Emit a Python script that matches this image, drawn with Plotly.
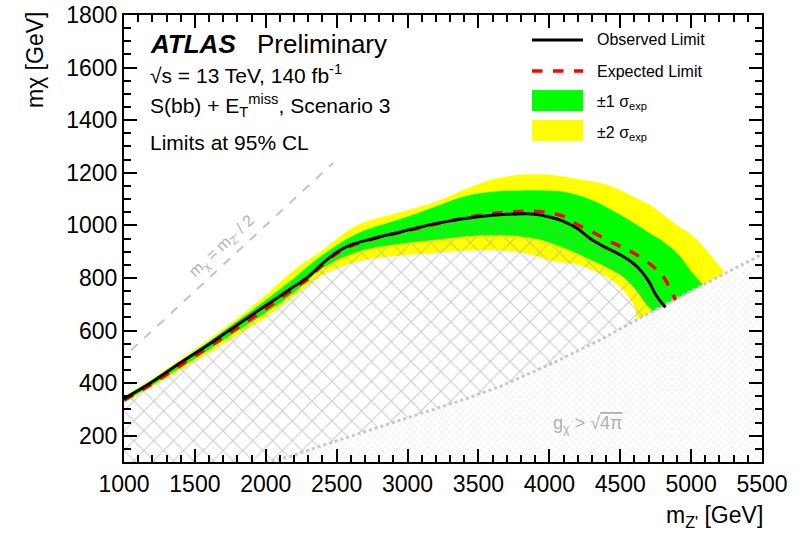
import plotly.graph_objects as go

# ---------------- data ----------------
obs_x = [1000, 1100, 1200, 1400, 1600, 1800, 2000, 2200, 2300, 2400, 2500, 2600, 2700, 2800, 2950,
         3100, 3300, 3500, 3700, 3850, 3950, 4000, 4100, 4200, 4300, 4400, 4500, 4600, 4650, 4700,
         4750, 4800, 4820]
obs_y = [340, 372, 405, 478, 548, 622, 695, 768, 805, 855, 898, 926, 942, 956, 975,
         995, 1017, 1033, 1042, 1044, 1038, 1032, 1015, 987, 945, 915, 888, 852, 825, 788,
         737, 700, 689]

exp_x = [1000, 1200, 1400, 1600, 1800, 2000, 2200, 2300, 2400, 2500, 2600, 2700, 2800, 3000, 3200,
         3400, 3600, 3800, 3900, 4000, 4100, 4200, 4300, 4400, 4500, 4600, 4700, 4750, 4800, 4850,
         4890]
exp_y = [335, 398, 468, 538, 610, 683, 760, 797, 850, 893, 922, 940, 955, 980, 1005,
         1028, 1045, 1053, 1054, 1048, 1034, 1002, 976, 946, 920, 893, 857, 835, 808, 761,
         716]

g_up_x = [1000, 1200, 1400, 1600, 1800, 2000, 2200, 2400, 2650, 2950, 3200, 3400, 3600, 3800, 4000,
          4100, 4200, 4300, 4400, 4500, 4600, 4700, 4800, 4900, 5000, 5080]
g_up_y = [348, 412, 484, 558, 636, 716, 800, 887, 970, 1024, 1072, 1110, 1128, 1133, 1132,
          1128, 1115, 1096, 1070, 1040, 1008, 973, 940, 895, 825, 770]
g_lo_x = [1000, 1200, 1400, 1600, 1800, 2000, 2200, 2400, 2650, 2950, 3200, 3400, 3600, 3800, 3900,
          4000, 4100, 4200, 4300, 4400, 4500, 4550, 4600, 4650, 4700, 4760]
g_lo_y = [330, 392, 460, 527, 598, 668, 745, 837, 900, 930, 945, 958, 962, 958, 950,
          935, 915, 892, 866, 842, 812, 790, 762, 725, 690, 668]

y_up_x = [1000, 1200, 1400, 1600, 1800, 2000, 2200, 2400, 2650, 2950, 3200, 3400, 3600, 3800, 4000,
          4200, 4400, 4600, 4700, 4800, 4900, 5000, 5100, 5200, 5230]
y_up_y = [352, 418, 492, 568, 648, 735, 830, 906, 1002, 1050, 1090, 1135, 1175, 1192, 1192,
          1176, 1155, 1108, 1080, 1042, 1000, 965, 910, 845, 820]
y_lo_x = [1000, 1200, 1400, 1600, 1800, 2000, 2200, 2400, 2650, 2950, 3200, 3400, 3600, 3800, 3900,
          4000, 4200, 4300, 4400, 4500, 4570, 4610, 4620]
y_lo_y = [326, 386, 450, 515, 582, 650, 730, 811, 862, 885, 895, 903, 905, 897, 885,
          866, 850, 830, 805, 765, 720, 680, 645]

# g_chi > sqrt(4 pi) boundary
bnd_x = [2000, 2170, 2400, 2650, 2900, 3150, 3400, 3650, 4000, 4350, 4700, 5060, 5500]
bnd_y = [100, 121, 163, 207, 252, 295, 338, 387, 470, 562, 665, 767, 890]

# m_chi = m_Z'/2 line
half_x = [1050, 2475]
half_y = [525, 1237.5]

x_range = [1000, 5500]
y_range = [100, 1800]
x_ticks = [1000, 1500, 2000, 2500, 3000, 3500, 4000, 4500, 5000, 5500]
y_ticks = [200, 400, 600, 800, 1000, 1200, 1400, 1600, 1800]

# ---------------- helpers ----------------
SL, SR, ST, SB = 124, 762, 15, 462   # plot frame in screen pixels
W, H = 810, 537


def px(xs):
    return (xs - SL) / (SR - SL)


def py(ys):
    return (SB - ys) / (SB - ST)


def band(ux, uy, lx, ly):
    x0, x1 = lx[-1], ux[-1]
    mid = [(a, b) for a, b in zip(bnd_x, bnd_y) if x0 < a < x1]
    xs = list(ux) + [m[0] for m in reversed(mid)] + list(lx[::-1])
    ys = list(uy) + [m[1] for m in reversed(mid)] + list(ly[::-1])
    return xs, ys


FONT = "Liberation Sans, Arial, Helvetica, sans-serif"

fig = go.Figure()

yx, yy = band(y_up_x, y_up_y, y_lo_x, y_lo_y)
fig.add_trace(go.Scatter(x=yx, y=yy, fill="toself", fillcolor="#ffff00", mode="none",
                         line_shape="spline", hoverinfo="skip", showlegend=False))
gx, gy = band(g_up_x, g_up_y, g_lo_x, g_lo_y)
fig.add_trace(go.Scatter(x=gx, y=gy, fill="toself", fillcolor="#00ff00", mode="none",
                         line_shape="spline", hoverinfo="skip", showlegend=False))

# coarse hatch: excluded region below observed limit
cb = [(a, b) for a, b in zip(bnd_x, bnd_y) if a < obs_x[-1]]
cx = list(obs_x) + [c[0] for c in reversed(cb)] + [x_range[0]]
cy = list(obs_y) + [c[1] for c in reversed(cb)] + [y_range[0]]
fig.add_trace(go.Scatter(x=cx, y=cy, fill="toself", fillcolor="rgba(0,0,0,0)", mode="none",
                         fillpattern=dict(shape="x", size=14, solidity=0.15, fgcolor="#999999",
                                          bgcolor="rgba(0,0,0,0)"),
                         hoverinfo="skip", showlegend=False))

# fine hatch: g_chi > sqrt(4pi)
fx = list(bnd_x) + [x_range[1], bnd_x[0]]
fy = list(bnd_y) + [y_range[0], y_range[0]]
fig.add_trace(go.Scatter(x=fx, y=fy, fill="toself", fillcolor="white", mode="none",
                         fillpattern=dict(shape="x", size=5, solidity=0.22, fgcolor="#d0d0d0",
                                          bgcolor="white"),
                         hoverinfo="skip", showlegend=False))

fig.add_trace(go.Scatter(x=bnd_x, y=bnd_y, mode="lines",
                         line=dict(color="#c8c8c8", width=3, dash="dot"),
                         hoverinfo="skip", showlegend=False))
fig.add_trace(go.Scatter(x=half_x, y=half_y, mode="lines",
                         line=dict(color="#c4c4c4", width=2, dash="dash"),
                         hoverinfo="skip", showlegend=False))
fig.add_trace(go.Scatter(x=exp_x, y=exp_y, mode="lines", line_shape="spline",
                         line=dict(color="#ff0000", width=3.5, dash="dash"),
                         name="Expected Limit", showlegend=False))
fig.add_trace(go.Scatter(x=obs_x, y=obs_y, mode="lines", line_shape="spline",
                         line=dict(color="#000000", width=3),
                         name="Observed Limit", showlegend=False))

# ---------------- legend (drawn manually) ----------------
shapes = [
    dict(type="line", xref="paper", yref="paper", x0=px(532), x1=px(583), y0=py(40), y1=py(40),
         line=dict(color="black", width=3)),
    dict(type="line", xref="paper", yref="paper", x0=px(532), x1=px(583), y0=py(71), y1=py(71),
         line=dict(color="#ff0000", width=3.5, dash="dash")),
    dict(type="rect", xref="paper", yref="paper", x0=px(532), x1=px(583), y0=py(111), y1=py(90),
         line=dict(width=0), fillcolor="#00ff00"),
    dict(type="rect", xref="paper", yref="paper", x0=px(532), x1=px(583), y0=py(141), y1=py(120),
         line=dict(width=0), fillcolor="#ffff00"),
]

ann = []


def text(xs, ys, s, size, color="black", xanchor="left", yanchor="middle", angle=0):
    ann.append(dict(x=px(xs), y=py(ys), xref="paper", yref="paper", text=s, showarrow=False,
                    xanchor=xanchor, yanchor=yanchor, textangle=angle,
                    font=dict(family=FONT, size=size, color=color)))


text(595, 40, "Observed Limit", 16)
text(595, 71, "Expected Limit", 16)
text(595, 102, "±1 σ<sub>exp</sub>", 16)
text(595, 133, "±2 σ<sub>exp</sub>", 16)

text(148, 44, "<b><i>ATLAS</i></b>", 26)
text(255, 44, "Preliminary", 26)
text(148, 74, "√s = 13 TeV, 140 fb<sup>-1</sup>", 21)
text(148, 106, "S(bb) + E<sub>T</sub><sup>miss</sup>, Scenario 3", 21)
text(148, 142, "Limits at 95% CL", 21)

# axis titles
text(35, 10, "mχ [GeV]", 23, xanchor="center", yanchor="top", angle=-90)
text(765, 516, "m<sub>Z'</sub> [GeV]", 23, xanchor="right")

# in-plot labels
ann.append(dict(x=1690, y=919, xref="x", yref="y", text="m<sub>χ</sub> = m<sub>Z'</sub> / 2",
                showarrow=False, textangle=-43,
                font=dict(family=FONT, size=16, color="#b4b4b4")))
ann.append(dict(x=4272, y=241, xref="x", yref="y",
                text="g<sub>χ</sub> > √<span style='text-decoration:overline'>4π</span>",
                showarrow=False, font=dict(family=FONT, size=18, color="#b0b0b0")))

axis_common = dict(showline=True, linecolor="black", linewidth=2, mirror="allticks",
                   ticks="inside", ticklen=13, tickwidth=1.5, tickcolor="black",
                   showgrid=False, zeroline=False, automargin=False,
                   ticklabeloverflow="allow",
                   tickfont=dict(family=FONT, size=23, color="black"))

fig.update_layout(
    width=W, height=H,
    margin=dict(l=SL, r=W - SR, t=ST, b=H - SB, autoexpand=False),
    paper_bgcolor="white", plot_bgcolor="white",
    showlegend=False,
    shapes=shapes, annotations=ann,
    xaxis=dict(range=x_range, tickvals=x_ticks,
               minor=dict(dtick=100, ticks="inside", ticklen=7, tickwidth=1.5, tickcolor="black",
                          showgrid=False),
               **axis_common),
    yaxis=dict(range=y_range, tickvals=y_ticks,
               minor=dict(dtick=50, ticks="inside", ticklen=7, tickwidth=1.5, tickcolor="black",
                          showgrid=False),
               **axis_common),
)

fig.write_html("out.html", config={"displayModeBar": False},
               post_script="document.body.style.margin='0';")
